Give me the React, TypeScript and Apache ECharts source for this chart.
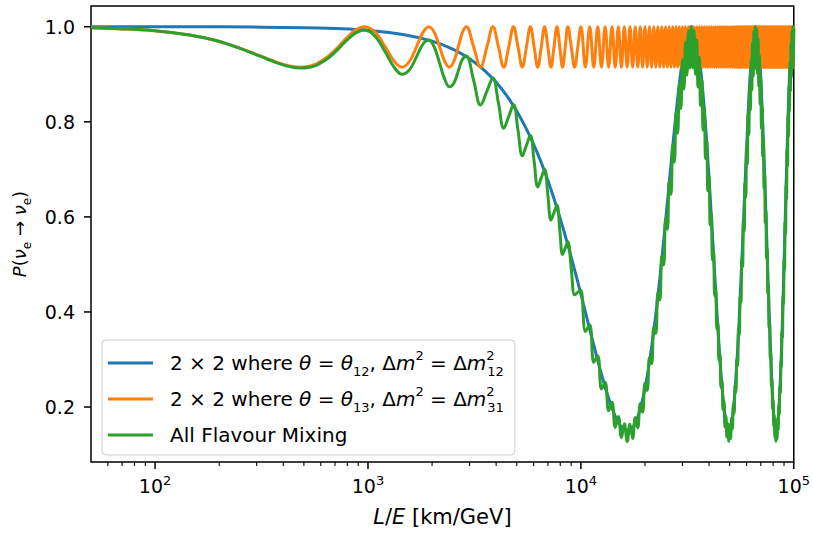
import React, { useEffect, useRef } from "react";
import * as echarts from "echarts";

// ---- data ----
// x positions shared by the orange (θ13) and green (all flavour) curves, km/GeV
const ogX = [
  50, 68, 97, 145, 193, 241, 290, 338, 386, 434, 482, 531, 579, 627, 675, 724, 772, 820, 868, 917,
  965, 1086, 1206, 1327, 1448, 1568, 1689, 1809, 1930, 2051, 2171, 2292, 2413, 2533, 2654, 2774,
  2895, 3136, 3378, 3619, 3860, 4101, 4343, 4584, 4825, 5066, 5308, 5549, 5790, 6031, 6273, 6514,
  6755, 6996, 7238, 7479, 7720, 7961, 8203, 8444, 8685,
  9015, 9342, 9671,
  10000, 10500, 11000, 11500, 12000, 12500, 13000, 13500, 14000, 14500,
  15000, 15500, 16000, 16500, 17000, 17500, 18000, 18500, 19000, 19500,
  20000, 20500, 21000, 21500, 22000, 22500, 23000, 23500, 24000, 24500,
  25000, 25500, 26000, 26500, 27000, 27500, 28000, 28500, 29000, 29500,
  30000, 30500, 31000, 31500, 32000, 32500, 33000, 33500, 34000, 34500,
  35000, 35500, 36000, 36500, 37000, 37500, 38000, 38500, 39000, 39500,
  40000, 40500, 41000, 41500, 42000, 42500, 43000, 43500, 44000, 44500,
  45000, 45500, 46000, 46500, 47000, 47500, 48000, 48500, 49000, 49500,
  50000, 50500, 51000, 51500, 52000, 52500, 53000, 53500, 54000, 54500,
  55000, 55500, 56000, 56500, 57000, 57500, 58000, 58500, 59000, 59500,
  60000, 60500, 61000, 61500, 62000, 62500, 63000, 63500, 64000, 64500,
  65000, 65500, 66000, 66500, 67000, 67500, 68000, 68500, 69000, 69500,
  70000, 70500, 71000, 71500, 72000, 72500, 73000, 73500, 74000, 74500,
  75000, 75500, 76000, 76500, 77000, 77500, 78000, 78500, 79000, 79500,
  80000, 80500, 81000, 81500, 82000, 82500, 83000, 83500, 84000, 84500,
  85000, 85500, 86000, 86500, 87000, 87500, 88000, 88500, 89000, 89500,
  90000, 90500, 91000, 91500, 92000, 92500, 93000, 93500, 94000, 94500,
  95000, 95500, 96000, 96500, 97000, 97500, 98000, 98500, 99000, 99500,
  100000,
];

const orangeY = [
  0.998, 0.996, 0.992, 0.9825, 0.971, 0.9575, 0.944, 0.9325, 0.923, 0.917, 0.915, 0.917, 0.923, 0.9325, 0.944, 0.9575, 0.971, 0.9825, 0.992, 0.998,
  1, 0.9876, 0.9575, 0.9274, 0.915, 0.9274, 0.9575, 0.9876, 1, 0.9876, 0.9575, 0.9274, 0.915, 0.9274, 0.9575, 0.9876,
  1, 0.9575, 0.915, 0.9575, 1, 0.9575, 0.915, 0.9575, 1, 0.9575, 0.915, 0.9575, 1, 0.9575, 0.915, 0.9575,
  1, 0.9575, 0.915, 0.9575, 1, 0.9575, 0.915, 0.9575, 1,
  0.9575, 0.915, 0.9575,
  1, 0.915, 1, 0.915, 1, 0.915, 1, 0.915, 1, 0.915,
  1, 0.915, 1, 0.915, 1, 0.915, 1, 0.915, 1, 0.915,
  1, 0.915, 1, 0.915, 1, 0.915, 1, 0.915, 1, 0.915,
  1, 0.915, 1, 0.915, 1, 0.915, 1, 0.915, 1, 0.915,
  1, 0.915, 1, 0.915, 1, 0.915, 1, 0.915, 1, 0.915,
  1, 0.915, 1, 0.915, 1, 0.915, 1, 0.915, 1, 0.915,
  1, 0.915, 1, 0.915, 1, 0.915, 1, 0.915, 1, 0.915,
  1, 0.915, 1, 0.915, 1, 0.915, 1, 0.915, 1, 0.915,
  1, 0.915, 1, 0.915, 1, 0.915, 1, 0.915, 1, 0.915,
  1, 0.915, 1, 0.915, 1, 0.915, 1, 0.915, 1, 0.915,
  1, 0.915, 1, 0.915, 1, 0.915, 1, 0.915, 1, 0.915,
  1, 0.915, 1, 0.915, 1, 0.915, 1, 0.915, 1, 0.915,
  1, 0.915, 1, 0.915, 1, 0.915, 1, 0.915, 1, 0.915,
  1, 0.915, 1, 0.915, 1, 0.915, 1, 0.915, 1, 0.915,
  1, 0.915, 1, 0.915, 1, 0.915, 1, 0.915, 1, 0.915,
  1, 0.915, 1, 0.915, 1, 0.915, 1, 0.915, 1, 0.915,
  1, 0.915, 1, 0.915, 1, 0.915, 1, 0.915, 1, 0.915,
  1, 0.915, 1, 0.915, 1, 0.915, 1, 0.915, 1, 0.915,
  1,
];

const greenY = [
  0.998, 0.996, 0.992, 0.9825, 0.971, 0.957, 0.9435, 0.9316, 0.922, 0.9155, 0.913, 0.9147, 0.92, 0.929, 0.94, 0.953, 0.966, 0.977, 0.986, 0.991,
  0.993, 0.9787, 0.9467, 0.9147, 0.8999, 0.9097, 0.9366, 0.9631, 0.9721, 0.9563, 0.923, 0.8898, 0.8736, 0.8816, 0.9065, 0.9309,
  0.9382, 0.8869, 0.8351, 0.8644, 0.8922, 0.8393, 0.7862, 0.8116, 0.8361, 0.7823, 0.7285, 0.7504, 0.7711, 0.717, 0.6631, 0.6821,
  0.6998, 0.646, 0.5933, 0.6093, 0.6244, 0.5722, 0.5209, 0.5348, 0.5476,
  0.4908, 0.4361, 0.4413,
  0.445, 0.359, 0.373, 0.294, 0.308, 0.238, 0.252, 0.192, 0.21, 0.157,
  0.18, 0.136, 0.165, 0.128, 0.164, 0.134, 0.178, 0.156, 0.207, 0.189,
  0.25, 0.235, 0.304, 0.291, 0.369, 0.355, 0.441, 0.425, 0.518, 0.499,
  0.597, 0.574, 0.676, 0.647, 0.752, 0.715, 0.821, 0.776, 0.881, 0.828,
  0.931, 0.869, 0.968, 0.898, 0.992, 0.913, 1.0, 0.914, 0.993, 0.9,
  0.972, 0.873, 0.936, 0.834, 0.888, 0.783, 0.829, 0.723, 0.76, 0.655,
  0.685, 0.583, 0.607, 0.509, 0.528, 0.434, 0.45, 0.364, 0.377, 0.298,
  0.312, 0.241, 0.256, 0.194, 0.212, 0.158, 0.181, 0.137, 0.165, 0.128,
  0.163, 0.134, 0.177, 0.154, 0.205, 0.187, 0.247, 0.232, 0.301, 0.287,
  0.365, 0.351, 0.436, 0.421, 0.513, 0.495, 0.592, 0.57, 0.671, 0.642,
  0.747, 0.711, 0.817, 0.773, 0.878, 0.825, 0.928, 0.867, 0.966, 0.896,
  0.991, 0.912, 1.0, 0.914, 0.994, 0.902, 0.974, 0.875, 0.939, 0.837,
  0.891, 0.786, 0.832, 0.727, 0.765, 0.66, 0.69, 0.587, 0.612, 0.513,
  0.532, 0.439, 0.455, 0.368, 0.381, 0.302, 0.315, 0.244, 0.259, 0.196,
  0.214, 0.16, 0.182, 0.137, 0.165, 0.128, 0.163, 0.133, 0.176, 0.152,
  0.203, 0.184, 0.244, 0.229, 0.297, 0.284, 0.36, 0.347, 0.432, 0.417,
  0.508, 0.49, 0.588, 0.565, 0.667, 0.638, 0.743, 0.707, 0.813, 0.769,
  0.874, 0.823, 0.926, 0.865, 0.964, 0.895, 0.99, 0.912, 1.0, 0.914,
  0.995,
];

// blue (θ12 two-flavour) curve
const blueX = [
  50, 200, 500, 700, 1000, 1500, 2000, 2500, 3000, 3500, 4000, 4500, 5000, 5500, 6000, 6500, 7000, 7500, 8000, 8500, 9000, 9500, 10000,
  11000, 12000, 13000, 14000, 15000, 16000, 17000, 18000, 19000, 20000,
  21000, 22000, 23000, 24000, 25000, 26000, 27000, 28000, 29000, 30000,
  31000, 32000, 33000, 34000, 35000, 36000, 37000, 38000, 39000, 40000,
  41000, 42000, 43000, 44000, 45000, 46000, 47000, 48000, 49000, 50000,
  51000, 52000, 53000, 54000, 55000, 56000, 57000, 58000, 59000, 60000,
  61000, 62000, 63000, 64000, 65000, 66000, 67000, 68000, 69000, 70000,
  71000, 72000, 73000, 74000, 75000, 76000, 77000, 78000, 79000, 80000,
  81000, 82000, 83000, 84000, 85000, 86000, 87000, 88000, 89000, 90000,
  91000, 92000, 93000, 94000, 95000, 96000, 97000, 98000, 99000, 100000,
];
const blueY = [
  1.0, 0.9997, 0.998, 0.9962, 0.9923, 0.9828, 0.9697, 0.9529, 0.9328, 0.9094, 0.883, 0.8539, 0.8223, 0.7884, 0.7527, 0.7156, 0.6763, 0.6365, 0.5964, 0.556, 0.5158, 0.4762, 0.4375,
  0.364, 0.298, 0.242, 0.198, 0.168, 0.153, 0.152, 0.166, 0.196, 0.239,
  0.295, 0.36, 0.433, 0.511, 0.591, 0.671, 0.748, 0.818, 0.879, 0.93,
  0.968, 0.9915, 1.0, 0.993, 0.971, 0.935, 0.886, 0.826, 0.757, 0.681,
  0.601, 0.521, 0.442, 0.368, 0.302, 0.245, 0.201, 0.169, 0.153, 0.151,
  0.165, 0.194, 0.236, 0.291, 0.355, 0.428, 0.506, 0.587, 0.667, 0.743,
  0.814, 0.876, 0.927, 0.966, 0.99, 1.0, 0.994, 0.973, 0.938, 0.89,
  0.83, 0.761, 0.686, 0.606, 0.526, 0.447, 0.373, 0.306, 0.248, 0.203,
  0.171, 0.153, 0.151, 0.164, 0.192, 0.233, 0.287, 0.351, 0.424, 0.501,
  0.582, 0.662, 0.739, 0.81, 0.873, 0.925, 0.964, 0.989, 1.0, 0.995,
];

const seriesNames = [
  "2 × 2 where θ = θ12, Δm2 = Δm2 12",
  "2 × 2 where θ = θ13, Δm2 = Δm2 31",
  "All Flavour Mixing",
];
const legendRich = [
  "{f|2 × 2 where }{i|θ}{n| = }{i|θ}{sub|12}{n|, Δ}{i|m}{sup|2}{n| = Δ}{i|m}{supz|2}{sub|12}",
  "{f|2 × 2 where }{i|θ}{n| = }{i|θ}{sub|13}{n|, Δ}{i|m}{sup|2}{n| = Δ}{i|m}{supz|2}{sub|31}",
  "{f|All Flavour Mixing}",
];
const colors = ["#1f77b4", "#ff7f0e", "#2ca02c"];

const xMajorTicks = [100, 1000, 10000, 100000];
const xMinorTicks = [
  60, 70, 80, 90,
  200, 300, 400, 500, 600, 700, 800, 900,
  2000, 3000, 4000, 5000, 6000, 7000, 8000, 9000,
  20000, 30000, 40000, 50000, 60000, 70000, 80000, 90000,
];
const yMajorTicks = [0.2, 0.4, 0.6, 0.8, 1.0];

const X_MIN = 50;
const X_MAX = 100000;
const Y_MIN = 0.0844;
const Y_MAX = 1.0436;

const FONT = "DejaVu Sans";

function makeRich(size: number, small: number, lh?: number) {
  const base: any = { fontFamily: FONT, color: "#000" };
  if (lh) base.lineHeight = lh;
  return {
    f: { ...base, fontSize: size, padding: [0, 0, 0, 12] },
    n: { ...base, fontSize: size },
    i: { ...base, fontSize: size, fontStyle: "italic" },
    sub: { ...base, fontSize: small, padding: [16, 0, 0, 0] },
    sup: { ...base, fontSize: small, padding: [0, 0, 16, 0] },
    supz: { ...base, fontSize: small, padding: [0, 0, 16, 0], width: 1 },
  };
}

export default function App() {
  const ref = useRef<HTMLDivElement>(null);

  useEffect(() => {
    if (!ref.current) return;
    const chart = echarts.init(ref.current, undefined, { renderer: "svg" });

    const toPairs = (xs: number[], ys: number[]) => xs.map((x, i) => [x, ys[i]]);

    const tickData: number[][] = [
      ...xMajorTicks.map((v) => [v, Y_MIN, 0]),
      ...xMinorTicks.map((v) => [v, Y_MIN, 1]),
      ...yMajorTicks.map((v) => [X_MIN, v, 2]),
    ];

    const lineSeries = (name: string, data: number[][], color: string) => ({
      name,
      type: "line",
      data,
      showSymbol: false,
      symbol: "none",
      smooth: 0.4,
      color,
      lineStyle: { width: 3, color, join: "round", cap: "butt" },
      z: 3,
    });

    chart.setOption({
      animation: false,
      backgroundColor: "#ffffff",
      grid: {
        left: 91,
        right: 19,
        top: 6,
        bottom: 71,
        show: true,
        borderColor: "#000",
        borderWidth: 1.5,
        backgroundColor: "transparent",
        containLabel: false,
      },
      legend: {
        orient: "vertical",
        left: 102,
        top: 340,
        data: seriesNames,
        icon: "rect",
        itemWidth: 45,
        itemHeight: 3,
        itemGap: 0,
        padding: [5, 11, 2, 6],
        backgroundColor: "rgba(255,255,255,0.8)",
        borderColor: "#cccccc",
        borderWidth: 1,
        borderRadius: 4,
        selectedMode: false,
        formatter: (name: string) => legendRich[seriesNames.indexOf(name)],
        textStyle: { fontFamily: FONT, fontSize: 20, color: "#000", lineHeight: 36, rich: makeRich(20, 13, 36) },
      },
      xAxis: {
        type: "log",
        logBase: 10,
        min: X_MIN,
        max: X_MAX,
        name: "{i|L}{n|/}{i|E}{n| [km/GeV]}",
        nameLocation: "middle",
        nameGap: 44,
        nameTextStyle: { rich: makeRich(21, 14) },
        axisLine: { show: false },
        axisTick: { show: false },
        splitLine: { show: false },
        minorTick: { show: false },
        axisLabel: {
          margin: 12,
          showMinLabel: false,
          formatter: (v: number) => {
            const e = Math.round(Math.log10(v));
            if (Math.abs(Math.log10(v) - e) > 1e-6) return "";
            return `{b|10}{s|${e}}`;
          },
          rich: {
            b: { fontFamily: FONT, fontSize: 19, color: "#000" },
            s: { fontFamily: FONT, fontSize: 13, color: "#000", padding: [0, 0, 11, 0] },
          },
        },
      },
      yAxis: {
        type: "value",
        min: Y_MIN,
        max: Y_MAX,
        splitNumber: 5,
        name: "{i|P}{n|(}{i|ν}{sub|e}{n| → }{i|ν}{sub|e}{n|)}",
        nameLocation: "middle",
        nameGap: 58,
        nameTextStyle: { rich: makeRich(18, 12) },
        axisLine: { show: false },
        axisTick: { show: false },
        splitLine: { show: false },
        axisLabel: {
          margin: 16,
          fontFamily: FONT,
          fontSize: 19,
          color: "#000",
          showMinLabel: false,
          showMaxLabel: false,
          formatter: (v: number) => {
            const r = Math.round(v * 5) / 5;
            if (Math.abs(v - r) < 1e-6 && r > 0.1 && r < 1.01) return r.toFixed(1);
            return "";
          },
        },
      },
      series: [
        lineSeries(seriesNames[0], toPairs(blueX, blueY), colors[0]),
        lineSeries(seriesNames[1], toPairs(ogX, orangeY), colors[1]),
        lineSeries(seriesNames[2], toPairs(ogX, greenY), colors[2]),
        {
          type: "custom",
          name: "ticks",
          data: tickData,
          clip: false,
          silent: true,
          z: 10,
          encode: { x: 0, y: 1 },
          renderItem: (_params: any, api: any) => {
            const kind = api.value(2);
            const p = api.coord([api.value(0), api.value(1)]);
            let shape;
            if (kind === 0) shape = { x1: p[0], y1: p[1], x2: p[0], y2: p[1] + 7 };
            else if (kind === 1) shape = { x1: p[0], y1: p[1], x2: p[0], y2: p[1] + 4 };
            else shape = { x1: p[0] - 7, y1: p[1], x2: p[0], y2: p[1] };
            return {
              type: "line",
              shape,
              style: { stroke: "#000", lineWidth: kind === 1 ? 1.1 : 1.5 },
            };
          },
        },
      ],
    });

    return () => chart.dispose();
  }, []);

  return (
    <div
      ref={ref}
      style={{ position: "fixed", left: 0, top: 0, width: 813, height: 533, background: "#fff" }}
    />
  );
}
